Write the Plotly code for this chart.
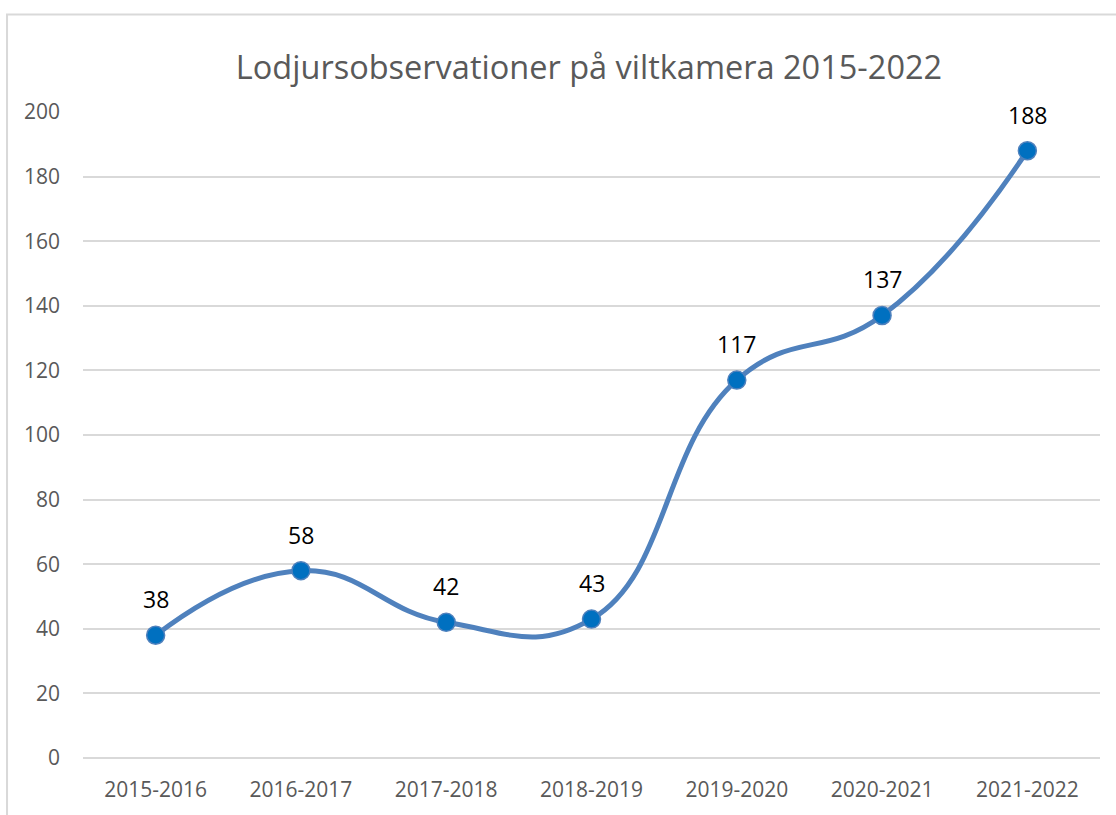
import plotly.graph_objects as go

seasons = ["2015-2016", "2016-2017", "2017-2018", "2018-2019",
           "2019-2020", "2020-2021", "2021-2022"]
observations = [38, 58, 42, 43, 117, 137, 188]
y_ticks = [0, 20, 40, 60, 80, 100, 120, 140, 160, 180, 200]

fig = go.Figure()
fig.add_trace(go.Scatter(
    x=seasons,
    y=observations,
    mode="lines+markers",
    line=dict(color="#4F81BD", width=5, shape="spline", smoothing=1.3),
    marker=dict(size=18, color="#0070C0", line=dict(color="#4F81BD", width=1.5)),
    cliponaxis=False,
    hoverinfo="x+y",
))

# data labels above each point
for s, v in zip(seasons, observations):
    fig.add_annotation(x=s, y=v, text=str(v), showarrow=False,
                       yshift=36, yanchor="middle",
                       font=dict(family="Open Sans", size=23, color="#000000"))

# outer chart border
fig.add_shape(type="rect", xref="paper", yref="paper",
              x0=-0.0747, x1=1.2, y0=-0.3, y1=1.1508,
              line=dict(color="#D9D9D9", width=2), layer="below")

fig.update_layout(
    width=1116, height=815,
    margin=dict(l=83, r=16, t=112, b=50),
    paper_bgcolor="white",
    plot_bgcolor="white",
    showlegend=False,
    title=dict(text="Lodjursobservationer på viltkamera 2015-2022",
               x=589 / 1116, xanchor="center",
               y=1 - 68 / 815, yanchor="middle", yref="container",
               font=dict(family="Open Sans", size=32.5, color="#595959")),
    font=dict(family="Open Sans", color="#595959"),
)
fig.update_xaxes(range=[-0.5, len(seasons) - 0.5],
                 showgrid=False, showline=False, zeroline=False,
                 tickfont=dict(size=21, color="#595959"),
                 ticklabelstandoff=17)
fig.update_yaxes(range=[0, 200], tickvals=y_ticks,
                 showgrid=True, gridcolor="#D9D9D9", gridwidth=1.5,
                 zeroline=True, zerolinecolor="#D9D9D9", zerolinewidth=1.5,
                 showline=False,
                 tickfont=dict(size=21, color="#595959"),
                 ticklabelstandoff=22)

fig.write_html("out.html", config={"displayModeBar": False},
               post_script="document.body.style.margin='0';")
